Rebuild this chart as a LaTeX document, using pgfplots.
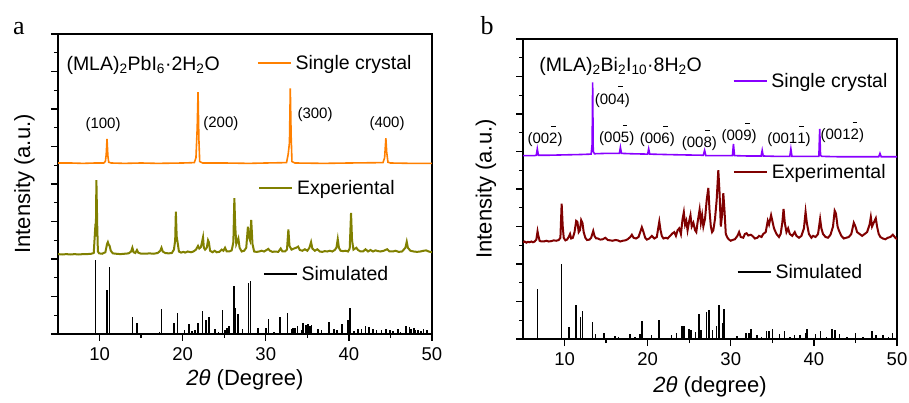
\documentclass[border=0pt]{standalone}
\usepackage{fontspec}
\setmainfont{Liberation Sans}
\newfontfamily\seriffont{Liberation Serif}
\usepackage{pgfplots}
\pgfplotsset{compat=1.18}
\definecolor{corange}{RGB}{255,128,0}
\definecolor{colive}{RGB}{128,128,0}
\definecolor{cviolet}{RGB}{136,0,255}
\definecolor{cdred}{RGB}{128,0,0}
\newcommand\ob[1]{\ooalign{#1\cr\hidewidth\raisebox{1.12em}{\rule{0.3em}{0.07em}}\hidewidth\cr}}
\newcommand\pk{\fontsize{15bp}{16bp}\selectfont}
\newcommand\tx{\fontsize{19.5bp}{21bp}\selectfont}
\pgfplotsset{
 base/.style={scale only axis, width=374bp, height=300bp, xmin=5, xmax=50, ymin=0, ymax=8},
 frame/.style={base, xtick={10,20,30,40,50}, minor x tick num=1, ytick={0,1,...,8}, minor y tick num=1,
   yticklabels={}, xtick pos=bottom, ytick pos=left, tick align=outside,
   major tick length=7bp, minor tick length=4bp,
   axis line style={line width=1.8bp}, tick style={line width=1.3bp, black},
   /pgf/number format/assume math mode=true,
   xticklabel style={font=\fontsize{18.5bp}{20bp}\selectfont, yshift=-3bp},
   label style={font=\fontsize{22bp}{24bp}\selectfont}},
 over/.style={base, hide axis},
 leg/.style={legend cell align=left,
   legend style={draw=none, fill=none, inner sep=0pt, outer sep=0pt, anchor=west, at={(#1)},
     font=\tx, nodes={inner sep=1bp}, /tikz/every odd column/.style={column sep=3bp}},
   legend image code/.code={\draw[##1] (0bp,0bp) -- (33bp,0bp);}},
}
\begin{document}
\begin{tikzpicture}
\useasboundingbox (0,0) rectangle (909bp,403bp);
% ---------------- panel a ----------------
\begin{axis}[frame, at={(58bp,69bp)}, anchor=south west, leg={0.548,0.2},
  xlabel={\textit{2θ} (Degree)}, ylabel={Intensity (a.u.)},
  xlabel style={at={(axis description cs:0.5,-0.153)}, anchor=center},
  ylabel style={at={(axis description cs:-0.09,0.5)}, anchor=center}]
\addplot[ycomb, black, line width=1.6bp, no markers] coordinates {
(9.53,1.97) (10.93,1.16) (11.18,1.78) (13.95,0.44) (14.47,0.30) (16.3,0.03) (17.2,0.05) (17.47,0.67)
(18.96,0.28) (19.36,0.55) (20.2,0.10) (20.76,0.26) (21.1,0.08) (21.5,0.1) (21.88,0.28) (22.41,0.61)
(22.8,0.37) (23.17,0.46) (23.9,0.13) (24.3,0.06) (24.77,0.64) (25.1,0.1) (25.3,0.16) (25.6,0.2)
(26.18,1.28) (26.38,0.68) (26.67,0.53) (27.2,0.13) (27.9,1.36) (28.18,1.41) (29.1,0.15) (30.0,0.17)
(30.35,0.39) (31.0,0.06) (31.7,0.44) (32.6,0.56) (33.1,0.13) (33.3,0.15) (33.5,0.17) (33.8,0.2)
(34.3,0.1) (34.5,0.28) (34.85,0.25) (35.1,0.26) (35.3,0.22) (35.5,0.25) (36.3,0.13) (36.7,0.1)
(37.6,0.31) (38.2,0.13) (38.6,0.1) (39.2,0.26) (39.9,0.37) (40.1,0.70) (40.6,0.08) (41.1,0.13)
(41.5,0.12) (42.0,0.22) (42.4,0.18) (42.9,0.12) (43.3,0.1) (43.9,0.1) (44.5,0.14) (44.95,0.1)
(45.3,0.08) (45.9,0.13) (46.2,0.06) (46.9,0.21) (47.3,0.19) (47.5,0.12) (47.8,0.15) (48.0,0.1)
(48.35,0.1) (48.7,0.08) (49.0,0.13) (49.4,0.1)};
\addlegendentry{Simulated}
\end{axis}
\begin{axis}[over, at={(58bp,69bp)}, anchor=south west, leg={0.532,0.903}]
\addplot[corange, line width=1.6bp, no markers] coordinates {
(5.0,4.56) (6.5,4.56) (8.0,4.55) (9.5,4.56) (10.5,4.56) (10.7,4.6) (10.8,4.78) (10.9,5.2) (11.0,4.75)
(11.1,4.58) (11.4,4.56) (13,4.55) (15,4.56) (17,4.55) (20,4.56) (21.4,4.57) (21.6,4.7) (21.75,5.5)
(21.85,6.45) (21.95,5.2) (22.05,4.6) (22.4,4.56) (25,4.56) (28,4.55) (30,4.56) (32.5,4.57) (32.7,4.8)
(32.85,5.1) (32.95,6.55) (33.05,5.3) (33.15,4.6) (33.5,4.56) (37,4.55) (40,4.56) (44.1,4.57) (44.3,4.7)
(44.45,5.22) (44.55,4.85) (44.7,4.58) (45,4.56) (47.5,4.55) (50,4.55)};
\addlegendentry{Single crystal}
\node[anchor=base west, font=\tx] at (axis cs:5.6,7.02) {(MLA)\textsubscript{2}PbI\textsubscript{6}·2H\textsubscript{2}O};
\node[anchor=base, font=\pk] at (axis cs:10.42,5.49) {(100)};
\node[anchor=base, font=\pk] at (axis cs:24.6,5.51) {(200)};
\node[anchor=base, font=\pk] at (axis cs:35.93,5.75) {(300)};
\node[anchor=base, font=\pk] at (axis cs:44.59,5.51) {(400)};
\end{axis}
\begin{axis}[over, at={(58bp,69bp)}, anchor=south west, leg={0.535,0.487}]
\addplot[colive, line width=2bp, no markers] coordinates {
(5.0,2.13) (5.5,2.12) (6.0,2.13) (6.5,2.12) (7.0,2.13) (7.5,2.12) (8.0,2.13) (8.5,2.13) (9.0,2.14)
(9.3,2.16) (9.45,2.72) (9.55,2.6) (9.62,4.1) (9.72,2.9) (9.8,2.2) (9.95,2.15) (10.3,2.14) (10.7,2.18)
(10.9,2.4) (11.0,2.45) (11.1,2.38) (11.2,2.36) (11.35,2.22) (11.6,2.15) (12.0,2.14) (12.5,2.13)
(13.0,2.14) (13.5,2.15) (13.8,2.2) (13.95,2.3) (14.1,2.18) (14.3,2.16) (14.5,2.24) (14.65,2.17)
(15.0,2.14) (15.5,2.14) (16.0,2.15) (16.5,2.14) (17.0,2.16) (17.3,2.22) (17.45,2.3) (17.6,2.2)
(17.9,2.16) (18.3,2.15) (18.7,2.16) (18.95,2.25) (19.1,2.5) (19.18,3.26) (19.28,2.6) (19.42,2.4)
(19.55,2.2) (19.8,2.17) (20.1,2.19) (20.3,2.17) (20.6,2.2) (20.8,2.19) (21.0,2.18) (21.3,2.2)
(21.6,2.25) (21.85,2.35) (22.0,2.28) (22.2,2.32) (22.45,2.58) (22.55,2.3) (22.7,2.25) (22.9,2.3)
(23.05,2.5) (23.15,2.45) (23.3,2.22) (23.6,2.18) (23.85,2.22) (24.1,2.18) (24.4,2.19) (24.7,2.25)
(24.9,2.22) (25.1,2.3) (25.3,2.2) (25.6,2.2) (25.9,2.23) (26.1,2.45) (26.22,3.62) (26.32,2.9)
(26.45,2.4) (26.7,2.55) (26.85,2.3) (27.1,2.2) (27.4,2.22) (27.65,2.3) (27.85,2.86) (27.95,2.6)
(28.1,2.5) (28.25,3.04) (28.4,2.4) (28.6,2.2) (28.9,2.19) (29.2,2.2) (29.5,2.22) (29.8,2.2)
(30.1,2.24) (30.3,2.27) (30.5,2.22) (30.8,2.19) (31.1,2.2) (31.5,2.19) (31.8,2.28) (32.0,2.2)
(32.3,2.2) (32.55,2.25) (32.72,2.79) (32.85,2.35) (33.1,2.25) (33.4,2.28) (33.65,2.3) (33.9,2.33)
(34.1,2.24) (34.4,2.22) (34.7,2.26) (35.0,2.22) (35.25,2.3) (35.45,2.45) (35.6,2.28) (35.9,2.22)
(36.2,2.26) (36.5,2.2) (36.8,2.19) (37.1,2.21) (37.4,2.2) (37.7,2.22) (38.0,2.2) (38.3,2.24)
(38.5,2.3) (38.66,2.53) (38.8,2.3) (39.0,2.22) (39.3,2.21) (39.6,2.22) (39.9,2.2) (40.1,2.28)
(40.26,3.23) (40.38,2.5) (40.55,2.25) (40.9,2.3) (41.1,2.24) (41.4,2.2) (41.7,2.2) (42.0,2.26)
(42.3,2.2) (42.6,2.24) (42.9,2.2) (43.2,2.23) (43.5,2.21) (43.8,2.2) (44.2,2.22) (44.6,2.26)
(44.9,2.2) (45.3,2.2) (45.6,2.22) (46.0,2.19) (46.4,2.2) (46.8,2.3) (46.96,2.46) (47.1,2.3)
(47.4,2.22) (47.8,2.2) (48.2,2.19) (48.6,2.2) (49.0,2.22) (49.3,2.23) (49.6,2.2) (50.0,2.18)};
\addlegendentry{Experiental}
\end{axis}
% ---------------- panel b ----------------
\begin{axis}[frame, at={(523bp,64bp)}, anchor=south west, leg={0.572,0.224},
  xlabel={\textit{2θ} (degree)}, ylabel={Intensity (a.u.)},
  xlabel style={at={(axis description cs:0.5,-0.16)}, anchor=center},
  ylabel style={at={(axis description cs:-0.099,0.5)}, anchor=center}]
\addplot[ycomb, black, line width=1.6bp, no markers] coordinates {
(6.72,1.33) (9.65,1.99) (10.53,0.33) (11.38,0.9) (11.94,0.59) (12.18,0.75) (13.38,0.45) (13.74,0.12)
(14.74,0.15) (16.06,0.08) (16.5,0.04) (17.87,0.13) (18.5,0.05) (19.07,0.13) (19.35,0.49) (20.47,0.11)
(21.39,0.5) (22.87,0.11) (23.47,0.15) (24.16,0.35) (24.4,0.35) (24.96,0.26) (25.2,0.24) (25.76,0.19)
(26.2,0.66) (26.4,0.24) (27.08,0.73) (27.4,0.77) (27.8,0.24) (28.28,0.35) (28.6,0.9) (29.0,0.43)
(29.2,0.79) (30.76,0.08) (31.8,0.15) (32.2,0.15) (32.4,0.27) (33.16,0.1) (33.7,0.06) (34.29,0.2)
(34.6,0.22) (35.0,0.26) (35.88,0.13) (36.48,0.22) (37.1,0.06) (37.68,0.11) (38.36,0.11) (39.08,0.17)
(39.2,0.26) (40.2,0.13) (40.8,0.2) (41.5,0.05) (42.17,0.26) (42.57,0.24) (43.1,0.13) (44.0,0.05)
(45.02,0.15) (45.9,0.06) (47.0,0.2) (47.5,0.11) (48.3,0.11) (49.0,0.05) (49.45,0.15)};
\addlegendentry{Simulated}
\end{axis}
\begin{axis}[over, at={(523bp,64bp)}, anchor=south west, leg={0.561,0.86}]
\addplot[cviolet, line width=1.6bp, no markers] coordinates {
(5,4.89) (6.4,4.89) (6.6,4.9) (6.72,5.07) (6.85,4.9) (8,4.9) (10,4.91) (12,4.92) (13.2,4.93)
(13.32,5.2) (13.38,6.84) (13.45,5.0) (13.6,4.94) (15,4.95) (16.6,4.95) (16.72,5.11) (16.85,4.95)
(18,4.94) (20.0,4.93) (20.12,5.07) (20.25,4.93) (22,4.92) (24,4.91) (26.7,4.9) (26.85,5.03) (27.0,4.89)
(29,4.89) (30.2,4.89) (30.32,5.2) (30.45,4.89) (32,4.88) (33.65,4.88) (33.78,5.03) (33.9,4.88)
(35.5,4.87) (37.1,4.87) (37.23,5.07) (37.36,4.87) (39,4.87) (40.6,4.87) (40.7,5.6) (40.8,4.9)
(40.95,4.87) (43,4.86) (45,4.86) (47.8,4.86) (47.95,4.95) (48.1,4.86) (50,4.86)};
\addlegendentry{Single crystal}
\node[anchor=base west, font=\tx] at (axis cs:6.56,7.14) {(MLA)\textsubscript{2}Bi\textsubscript{2}I\textsubscript{10}·8H\textsubscript{2}O};
\node[anchor=base, font=\pk] at (axis cs:7.65,5.21) {(00\ob{2})};
\node[anchor=base, font=\pk] at (axis cs:15.75,6.26) {(00\ob{4})};
\node[anchor=base, font=\pk] at (axis cs:16.28,5.24) {(00\ob{5})};
\node[anchor=base, font=\pk] at (axis cs:21.16,5.21) {(00\ob{6})};
\node[anchor=base, font=\pk] at (axis cs:26.22,5.11) {(00\ob{8})};
\node[anchor=base, font=\pk] at (axis cs:31.0,5.28) {(00\ob{9})};
\node[anchor=base, font=\pk] at (axis cs:37.0,5.21) {(001\ob{1})};
\node[anchor=base, font=\pk] at (axis cs:43.42,5.31) {(001\ob{2})};
\end{axis}
\begin{axis}[over, at={(523bp,64bp)}, anchor=south west, leg={0.561,0.556}]
\addplot[cdred, line width=2bp, no markers] coordinates {
(5.0,2.58) (5.2,2.6) (5.4,2.57) (5.6,2.59) (5.8,2.58) (6.0,2.6) (6.2,2.58) (6.4,2.6) (6.6,2.65)
(6.75,2.87) (6.85,2.75) (7.0,2.62) (7.2,2.6) (7.5,2.6) (7.8,2.62) (8.1,2.6) (8.4,2.61) (8.7,2.63)
(9.0,2.62) (9.3,2.64) (9.5,2.7) (9.65,3.61) (9.78,3.0) (9.9,2.7) (10.1,2.63) (10.3,2.65) (10.5,2.72)
(10.66,2.8) (10.8,2.68) (11.0,2.7) (11.2,2.85) (11.4,3.15) (11.55,3.12) (11.7,2.85) (11.85,2.9)
(12.0,3.17) (12.15,3.1) (12.3,2.85) (12.5,2.7) (12.7,2.64) (13.0,2.65) (13.2,2.7) (13.45,2.88)
(13.6,2.75) (13.8,2.68) (14.0,2.68) (14.3,2.65) (14.6,2.66) (14.9,2.7) (15.2,2.64) (15.5,2.63)
(15.8,2.62) (16.1,2.64) (16.4,2.63) (16.7,2.6) (17.0,2.62) (17.3,2.63) (17.6,2.66) (17.9,2.72)
(18.1,2.78) (18.3,2.7) (18.6,2.68) (18.9,2.72) (19.1,2.85) (19.3,2.98) (19.5,2.85) (19.7,2.7)
(19.9,2.65) (20.2,2.68) (20.5,2.75) (20.8,2.68) (21.1,2.72) (21.3,3.0) (21.4,3.13) (21.55,2.9)
(21.7,2.75) (21.9,2.68) (22.2,2.7) (22.4,2.68) (22.7,2.75) (23.0,2.82) (23.2,2.85) (23.4,2.75)
(23.6,2.9) (23.8,2.95) (24.0,2.8) (24.2,3.2) (24.35,3.38) (24.5,3.05) (24.65,3.15) (24.8,2.9)
(25.0,3.15) (25.15,3.3) (25.3,3.0) (25.5,3.1) (25.7,2.9) (25.85,2.85) (26.0,3.1) (26.25,3.45)
(26.4,3.1) (26.55,3.3) (26.7,3.0) (26.9,3.2) (27.1,3.7) (27.3,4.03) (27.45,3.4) (27.6,3.0)
(27.75,2.85) (27.9,2.9) (28.1,3.2) (28.3,3.7) (28.5,4.5) (28.65,3.9) (28.8,3.0) (28.95,3.3)
(29.1,3.89) (29.25,3.4) (29.4,2.8) (29.6,2.7) (29.8,2.65) (30.0,2.62) (30.2,2.64) (30.5,2.66)
(30.8,2.75) (31.0,2.85) (31.2,2.72) (31.5,2.7) (31.7,2.8) (31.9,2.82) (32.1,2.76) (32.4,2.78)
(32.6,2.75) (32.9,2.68) (33.2,2.7) (33.4,2.75) (33.7,2.72) (33.9,2.8) (34.2,2.85) (34.45,3.15)
(34.6,3.05) (34.85,3.3) (35.0,3.15) (35.2,2.95) (35.5,2.8) (35.8,2.72) (36.0,2.8) (36.2,3.1)
(36.35,3.47) (36.5,3.1) (36.7,2.85) (36.9,2.95) (37.1,2.8) (37.4,2.75) (37.7,2.85) (37.9,2.75)
(38.2,2.7) (38.5,2.75) (38.8,2.95) (39.0,3.39) (39.15,3.1) (39.4,2.8) (39.7,2.7) (39.9,2.75)
(40.2,2.72) (40.5,2.8) (40.75,3.2) (40.9,2.95) (41.1,2.8) (41.4,2.72) (41.7,2.7) (42.0,2.78)
(42.3,3.0) (42.5,3.42) (42.65,3.35) (42.85,3.0) (43.0,2.9) (43.3,2.75) (43.6,2.68) (43.9,2.7)
(44.2,2.72) (44.5,2.8) (44.8,3.1) (45.0,3.0) (45.2,2.85) (45.5,2.8) (45.8,2.75) (46.1,2.8)
(46.4,2.85) (46.7,3.05) (46.85,3.25) (47.0,3.0) (47.2,3.1) (47.45,3.22) (47.6,3.0) (47.8,2.8)
(48.0,2.72) (48.3,2.68) (48.6,2.66) (48.9,2.7) (49.2,2.72) (49.5,2.78) (49.8,2.7) (50.0,2.66)};
\addlegendentry{Experimental}
\end{axis}
\node[font=\seriffont\fontsize{26bp}{28bp}\selectfont] at (19bp,374bp) {a};
\node[font=\seriffont\fontsize{26bp}{28bp}\selectfont] at (487bp,377bp) {b};
\end{tikzpicture}
\end{document}
